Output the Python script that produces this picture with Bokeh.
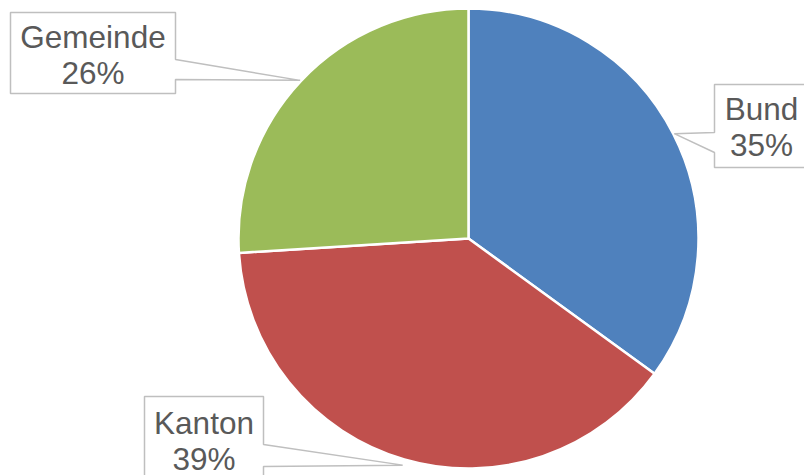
import numpy as np
from bokeh.plotting import figure
from bokeh.models import Range1d, ColumnDataSource
from bokeh.core.properties import value
from bokeh.embed import file_html
from bokeh.resources import INLINE

# ---- data ----
categories = ["Bund", "Kanton", "Gemeinde"]
shares = [35, 39, 26]
colors = ["#4F81BD", "#C0504D", "#9BBB59"]

# ---- layout (reference pixel coordinates) ----
W, H = 804, 475
cx, cy, R = 468, 238, 230
box_left = [714, 144, 10]
box_right = [808, 263, 175]
box_top = [84, 396, 12]
box_bottom = [167, 482, 93]
ptr_side = ["left", "right", "right"]
ptr_y0 = [132, 444, 59]
ptr_y1 = [152, 466, 79]
line1_base = [108, 422, 36]
line_gap = 36
tip_r = [231, 236, 231]

frac = np.array(shares, dtype=float) / sum(shares)
cum = np.cumsum(frac)
start = np.pi / 2 - 2 * np.pi * (cum - frac)
end = np.pi / 2 - 2 * np.pi * cum
mid = (start + end) / 2

p = figure(width=W, height=H, x_range=Range1d(0, W), y_range=Range1d(-H, 0),
           output_backend="svg", toolbar_location=None, min_border=0)
p.axis.visible = False
p.grid.visible = False
p.outline_line_color = None
p.background_fill_color = "white"

src = ColumnDataSource(dict(cat=categories, start=start, end=end, color=colors))
p.wedge(x=cx, y=-cy, radius=R, start_angle="start", end_angle="end", direction="clock",
        fill_color="color", line_color="white", line_width=2.5, source=src)

xs, ys, tx, ty, tt = [], [], [], [], []
for i, cat in enumerate(categories):
    L, Rt, T, B = box_left[i], box_right[i], box_top[i], box_bottom[i]
    tipx = cx + tip_r[i] * np.cos(mid[i])
    tipy = cy - tip_r[i] * np.sin(mid[i])
    if ptr_side[i] == "right":
        pts = [(L, T), (Rt, T), (Rt, ptr_y0[i]), (tipx, tipy), (Rt, ptr_y1[i]), (Rt, B), (L, B)]
    else:
        pts = [(L, T), (Rt, T), (Rt, B), (L, B), (L, ptr_y1[i]), (tipx, tipy), (L, ptr_y0[i])]
    xs.append([q[0] for q in pts])
    ys.append([-q[1] for q in pts])
    xc = (L + Rt) / 2 if ptr_side[i] == "right" else (L + 808) / 2
    tx += [xc, xc]
    ty += [-line1_base[i], -(line1_base[i] + line_gap)]
    tt += [cat, f"{shares[i]}%"]

p.patches(xs=xs, ys=ys, fill_color="white", line_color="#BFBFBF", line_width=1.5)
p.text(x=tx, y=ty, text=tt, text_align="center", text_baseline="alphabetic",
       text_font=value("Liberation Sans"), text_font_size="31.5px", text_color="#595959")

open("out.html", "w").write(file_html(p, INLINE))
